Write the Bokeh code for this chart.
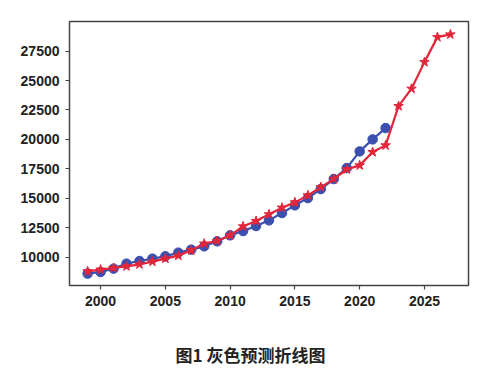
from bokeh.plotting import figure
from bokeh.models import Title, FixedTicker
from bokeh.embed import file_html
from bokeh.resources import INLINE

years_actual = list(range(1999, 2023))
actual = [8590, 8726, 9014, 9439, 9660, 9864, 10060, 10374, 10629, 10909, 11334, 11844,
          12209, 12634, 13118, 13738, 14392, 15013, 15777, 16627, 17562, 18980, 20000, 20960]

years_pred = list(range(1999, 2028))
predicted = [8785, 8930, 9065, 9210, 9380, 9609, 9864, 10119, 10569, 11138, 11359, 11844,
             12608, 13059, 13628, 14197, 14647, 15242, 15947, 16627, 17451, 17791, 18921, 19490,
             22829, 24307, 26567, 28692, 28921]

x_ticks = [2000, 2005, 2010, 2015, 2020, 2025]
y_ticks = [10000, 12500, 15000, 17500, 20000, 22500, 25000, 27500]
title_text = "图1  灰色预测折线图"

W, H = 479, 380
p = figure(width=W, height=H, output_backend="svg", toolbar_location=None,
           x_range=(1997.6, 2028.4), y_range=(7580, 30020),
           min_border_left=69, min_border_top=21, min_border_right=W - 468,
           min_border_bottom=H - 285)

p.xgrid.visible = False
p.ygrid.visible = False
p.outline_line_color = "#444444"
p.outline_line_width = 1.5
p.background_fill_color = "white"
p.border_fill_color = "white"

for ax in (p.xaxis[0], p.yaxis[0]):
    ax.axis_line_color = None
    ax.minor_tick_line_color = None
    ax.major_tick_in = 0
    ax.major_tick_out = 4
    ax.major_tick_line_color = "#444444"
    ax.major_tick_line_width = 1.2
    ax.major_label_text_font = "Liberation Sans"
    ax.major_label_text_font_style = "bold"
    ax.major_label_text_font_size = "14px"
    ax.major_label_text_color = "#222222"
    ax.major_label_standoff = 6

p.xaxis.ticker = FixedTicker(ticks=x_ticks)
p.yaxis.ticker = FixedTicker(ticks=y_ticks)

blue = "#3a4fae"
red = "#e3263a"
p.line(years_actual, actual, line_color=blue, line_width=2.2)
p.scatter(years_actual, actual, marker="circle", size=9.5, fill_color=blue, line_color=blue)
p.line(years_pred, predicted, line_color=red, line_width=2.2)
p.scatter(years_pred, predicted, marker="star", size=10, fill_color=red, line_color=red)

spacer = Title(text=" ", standoff=4, text_font="Noto Sans CJK SC", text_font_size="17px",
               text_color="white")
p.add_layout(spacer, "below")
t = Title(text=title_text, align="left", offset=106, standoff=0,
          text_font="Noto Sans CJK SC", text_font_size="17px", text_font_style="bold",
          text_color="#222222")
p.add_layout(t, "below")

open("out.html", "w").write(file_html(p, INLINE))
